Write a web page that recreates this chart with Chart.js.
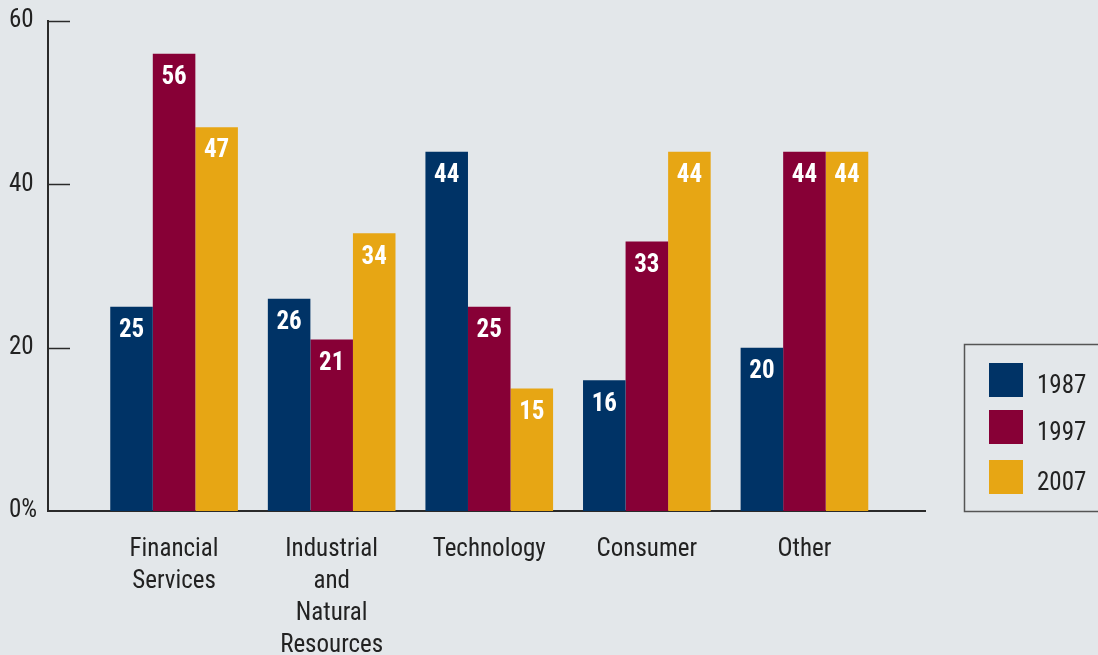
<!DOCTYPE html>
<html>
<head>
<meta charset="utf-8">
<title>Sector weights 1987-2007</title>
<script src="https://cdn.jsdelivr.net/npm/chart.js@4.4.1/dist/chart.umd.min.js"></script>
<style>
  html, body { margin: 0; padding: 0; background: #e3e7ea; }
  #wrap { width: 1098px; height: 655px; position: relative; }
</style>
</head>
<body>
<div id="wrap"><canvas id="sectorChart"></canvas></div>
<script>
const categories = [
  ["Financial", "Services"],
  ["Industrial", "and", "Natural", "Resources"],
  ["Technology"],
  ["Consumer"],
  ["Other"],
];
const years = ["1987", "1997", "2007"];
const values1987 = [25, 26, 44, 16, 20];
const values1997 = [56, 21, 25, 33, 44];
const values2007 = [47, 34, 15, 44, 44];
const yTicks = [0, 20, 40, 60];
const colors = ["#003366", "#870036", "#e7a614"];

const FONT = "'Liberation Sans Narrow', 'Roboto Condensed', 'Liberation Sans', Arial, sans-serif";
const TEXT = "#222222";

function toPoints(arr) {
  return arr.map((v, i) => ({ x: i, y: v }));
}

// value labels inside the top of each bar
const barLabels = {
  id: "barLabels",
  afterDatasetsDraw(chart) {
    const ctx = chart.ctx;
    ctx.save();
    ctx.fillStyle = "#ffffff";
    ctx.font = "bold 25px " + FONT;
    ctx.textAlign = "center";
    ctx.textBaseline = "middle";
    chart.data.datasets.forEach((ds, di) => {
      chart.getDatasetMeta(di).data.forEach((bar, i) => {
        ctx.fillText(String(ds.data[i].y), bar.x, bar.y + 24);
      });
    });
    ctx.restore();
  },
};

// short tick marks pointing into the plot, plus the boxed legend
const extras = {
  id: "extras",
  afterDraw(chart) {
    const ctx = chart.ctx;
    const area = chart.chartArea;
    const y = chart.scales.y;
    ctx.save();
    ctx.strokeStyle = "#2a2a2a";
    ctx.lineWidth = 1.5;
    yTicks.forEach((t) => {
      if (t === 0) return;
      const py = Math.round(y.getPixelForValue(t)) + 0.5;
      ctx.beginPath();
      ctx.moveTo(area.left, py);
      ctx.lineTo(area.left + 22, py);
      ctx.stroke();
    });

    // legend box
    ctx.strokeStyle = "#555555";
    ctx.lineWidth = 1.5;
    ctx.strokeRect(964.5, 344.5, 200, 167);
    ctx.font = "25px " + FONT;
    ctx.textAlign = "left";
    ctx.textBaseline = "middle";
    const rows = [363, 410, 460];
    chart.data.datasets.forEach((ds, i) => {
      ctx.fillStyle = ds.backgroundColor;
      ctx.fillRect(989, rows[i], 34, 34);
      ctx.fillStyle = TEXT;
      ctx.fillText(ds.label, 1037, rows[i] + 24);
    });
    ctx.restore();
  },
};

const ctx = document.getElementById("sectorChart").getContext("2d");
const sectorChart = new Chart(ctx, {
  type: "bar",
  data: {
    datasets: [
      { label: years[0], data: toPoints(values1987), backgroundColor: colors[0] },
      { label: years[1], data: toPoints(values1997), backgroundColor: colors[1] },
      { label: years[2], data: toPoints(values2007), backgroundColor: colors[2] },
    ],
  },
  options: {
    responsive: true,
    maintainAspectRatio: false,
    animation: false,
    categoryPercentage: 0.81,
    barPercentage: 1.0,
    layout: {
      padding: { left: 9, top: 19, right: 173, bottom: 0 },
    },
    scales: {
      x: {
        type: "linear",
        offset: false,
        min: -0.8,
        max: 4.765,
        afterFit: (scale) => {
          scale.height = 144;
        },
        afterBuildTicks: (scale) => {
          scale.ticks = categories.map((c, i) => ({ value: i }));
        },
        grid: { display: false },
        border: { display: true, color: "#2a2a2a", width: 2 },
        ticks: {
          autoSkip: false,
          maxRotation: 0,
          padding: 15,
          color: TEXT,
          font: { family: FONT, size: 25, lineHeight: 1.28 },
          callback: function (value) {
            return categories[value] || "";
          },
        },
      },
      y: {
        min: 0,
        max: 60,
        afterFit: (scale) => {
          scale.width = 39;
        },
        grid: { display: false },
        border: { display: true, color: "#2a2a2a", width: 2 },
        afterBuildTicks: (scale) => {
          scale.ticks = yTicks.map((v) => ({ value: v }));
        },
        ticks: {
          crossAlign: "far",
          padding: 6,
          color: TEXT,
          font: { family: FONT, size: 25 },
          callback: function (value) {
            return value === 0 ? "0%" : String(value);
          },
        },
      },
    },
    plugins: {
      legend: { display: false },
      tooltip: { enabled: false },
    },
  },
  plugins: [barLabels, extras],
});
</script>
</body>
</html>
